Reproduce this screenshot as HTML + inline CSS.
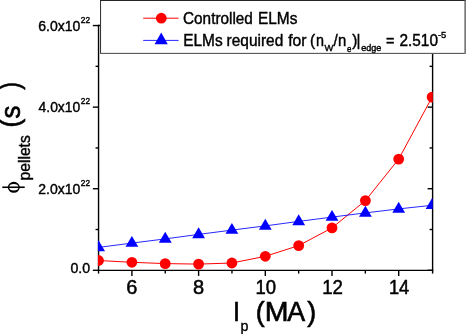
<!DOCTYPE html>
<html><head><meta charset="utf-8"><title>chart</title>
<style>html,body{margin:0;padding:0;background:#fff;}body{width:466px;height:334px;overflow:hidden;position:relative;font-family:"Liberation Sans",sans-serif;}svg text,svg tspan{font-family:"Liberation Sans",sans-serif;stroke:#000;stroke-width:0.4px;}svg .big text{stroke-width:0.6px;}svg .big .sm text{stroke-width:0.4px;}svg .mid text{stroke-width:0.5px;}</style>
</head><body>
<svg width="466" height="334" viewBox="0 0 466 334" style="display:block;position:absolute;left:0;top:0;will-change:transform">
<rect width="466" height="334" fill="#fff"/>
<defs><clipPath id="plot"><rect x="97.9" y="0" width="334.90" height="271"/></clipPath></defs>
<g stroke="#000" fill="none">
<line x1="98.55" y1="24.86" x2="98.55" y2="270.90" stroke-width="1.4"/>
<line x1="432.60" y1="24.86" x2="432.60" y2="270.90" stroke-width="1.4"/>
<line x1="97.85" y1="270.30" x2="433.30" y2="270.30" stroke-width="1.3"/>
<line x1="97.85" y1="25.56" x2="433.30" y2="25.56" stroke-width="1.4"/>
<line x1="92.85" y1="270.30" x2="98.55" y2="270.30" stroke-width="1.4"/>
<line x1="427.60" y1="270.30" x2="432.60" y2="270.30" stroke-width="1.4"/>
<line x1="95.55" y1="229.51" x2="98.55" y2="229.51" stroke-width="1.4"/>
<line x1="429.60" y1="229.51" x2="432.60" y2="229.51" stroke-width="1.4"/>
<line x1="92.85" y1="188.72" x2="98.55" y2="188.72" stroke-width="1.4"/>
<line x1="427.60" y1="188.72" x2="432.60" y2="188.72" stroke-width="1.4"/>
<line x1="95.55" y1="147.93" x2="98.55" y2="147.93" stroke-width="1.4"/>
<line x1="429.60" y1="147.93" x2="432.60" y2="147.93" stroke-width="1.4"/>
<line x1="92.85" y1="107.14" x2="98.55" y2="107.14" stroke-width="1.4"/>
<line x1="427.60" y1="107.14" x2="432.60" y2="107.14" stroke-width="1.4"/>
<line x1="95.55" y1="66.35" x2="98.55" y2="66.35" stroke-width="1.4"/>
<line x1="429.60" y1="66.35" x2="432.60" y2="66.35" stroke-width="1.4"/>
<line x1="92.85" y1="25.56" x2="98.55" y2="25.56" stroke-width="1.4"/>
<line x1="427.60" y1="25.56" x2="432.60" y2="25.56" stroke-width="1.4"/>
<line x1="98.55" y1="270.30" x2="98.55" y2="273.60" stroke-width="1.4"/>
<line x1="131.90" y1="270.30" x2="131.90" y2="275.90" stroke-width="1.4"/>
<line x1="165.25" y1="270.30" x2="165.25" y2="273.60" stroke-width="1.4"/>
<line x1="198.60" y1="270.30" x2="198.60" y2="275.90" stroke-width="1.4"/>
<line x1="231.95" y1="270.30" x2="231.95" y2="273.60" stroke-width="1.4"/>
<line x1="265.30" y1="270.30" x2="265.30" y2="275.90" stroke-width="1.4"/>
<line x1="298.65" y1="270.30" x2="298.65" y2="273.60" stroke-width="1.4"/>
<line x1="332.00" y1="270.30" x2="332.00" y2="275.90" stroke-width="1.4"/>
<line x1="365.35" y1="270.30" x2="365.35" y2="273.60" stroke-width="1.4"/>
<line x1="398.70" y1="270.30" x2="398.70" y2="275.90" stroke-width="1.4"/>
<line x1="432.60" y1="270.30" x2="432.60" y2="273.60" stroke-width="1.4"/>
</g>
<g clip-path="url(#plot)">
<polyline points="98.5,260.5 131.9,262.3 165.2,263.6 198.6,264.1 231.9,263.0 265.3,256.3 298.7,245.6 332.0,227.9 365.4,200.6 398.7,159.1 432.1,97.1" fill="none" stroke="#ff0000" stroke-width="1"/>
<circle cx="98.5" cy="260.5" r="5.4" fill="#ff0000"/>
<circle cx="131.9" cy="262.3" r="5.4" fill="#ff0000"/>
<circle cx="165.2" cy="263.6" r="5.4" fill="#ff0000"/>
<circle cx="198.6" cy="264.1" r="5.4" fill="#ff0000"/>
<circle cx="231.9" cy="263.0" r="5.4" fill="#ff0000"/>
<circle cx="265.3" cy="256.3" r="5.4" fill="#ff0000"/>
<circle cx="298.7" cy="245.6" r="5.4" fill="#ff0000"/>
<circle cx="332.0" cy="227.9" r="5.4" fill="#ff0000"/>
<circle cx="365.4" cy="200.6" r="5.4" fill="#ff0000"/>
<circle cx="398.7" cy="159.1" r="5.4" fill="#ff0000"/>
<circle cx="432.1" cy="97.1" r="5.4" fill="#ff0000"/>
<polyline points="98.5,247.4 131.9,243.1 165.2,238.9 198.6,234.4 231.9,230.1 265.3,225.9 298.7,221.4 332.0,217.1 365.4,212.9 398.7,208.9 432.1,205.3" fill="none" stroke="#0000ff" stroke-width="0.85"/>
<polygon points="98.5,240.2 92.1,251.2 105.0,251.2" fill="#0000ff"/>
<polygon points="131.9,235.9 125.5,246.8 138.3,246.8" fill="#0000ff"/>
<polygon points="165.2,231.7 158.8,242.7 171.7,242.7" fill="#0000ff"/>
<polygon points="198.6,227.2 192.2,238.2 205.0,238.2" fill="#0000ff"/>
<polygon points="231.9,222.9 225.5,233.8 238.3,233.8" fill="#0000ff"/>
<polygon points="265.3,218.7 258.9,229.7 271.7,229.7" fill="#0000ff"/>
<polygon points="298.7,214.2 292.3,225.2 305.1,225.2" fill="#0000ff"/>
<polygon points="332.0,209.9 325.6,220.8 338.4,220.8" fill="#0000ff"/>
<polygon points="365.4,205.7 359.0,216.7 371.8,216.7" fill="#0000ff"/>
<polygon points="398.7,201.7 392.3,212.7 405.1,212.7" fill="#0000ff"/>
<polygon points="432.1,198.1 425.7,209.1 438.4,209.1" fill="#0000ff"/>
</g>
<g fill="#000">
<text transform="translate(38.20,193.77) scale(1.001,1.000)" font-size="14">2.0x10</text>
<text transform="translate(80.78,185.77) scale(1.002,1.000)" font-size="8.3">22</text>
<text transform="translate(38.55,112.19) scale(0.993,1.000)" font-size="14">4.0x10</text>
<text transform="translate(80.78,104.19) scale(1.002,1.000)" font-size="8.3">22</text>
<text transform="translate(38.20,30.61) scale(1.001,1.000)" font-size="14">6.0x10</text>
<text transform="translate(80.78,22.61) scale(1.002,1.000)" font-size="8.3">22</text>
<text transform="translate(70.44,273.00) scale(1.009,1.000)" font-size="14">0.0</text>
<g class="mid">
<text transform="translate(131.80,293.55) scale(1.000,1.030)" font-size="20" text-anchor="middle">6</text>
<text transform="translate(198.50,293.55) scale(1.000,1.030)" font-size="20" text-anchor="middle">8</text>
<text transform="translate(255.46,293.55) scale(0.925,1.030)" font-size="20">10</text>
<text transform="translate(322.15,293.55) scale(0.934,1.030)" font-size="20">12</text>
<text transform="translate(388.88,293.55) scale(0.915,1.030)" font-size="20">14</text>
</g>
<g style="stroke-width:0.6px" class="big">
<text transform="translate(233.08,320.55) scale(0.972,1.045)" font-size="26">I</text>
<text transform="translate(255.79,320.55) scale(1.030,1.045)" font-size="26">(</text>
<text transform="translate(264.77,320.55) scale(1.096,1.045)" font-size="26">M</text>
<text transform="translate(287.37,320.55) scale(1.031,1.045)" font-size="26">A</text>
<text transform="translate(307.15,320.55) scale(1.030,1.045)" font-size="26">)</text>
</g>
<text transform="translate(240.58,330.55) scale(0.930,1.000)" font-size="15.3">p</text>
<g transform="translate(19.9,0) rotate(-90)" class="big">
<text transform="translate(-127.50,-0.80) scale(1.000,1.077)" font-size="26">(</text>
<text transform="translate(-118.48,0.00) scale(0.999,1.077)" font-size="26">s</text>
<text transform="translate(-89.78,-0.80) scale(0.900,1.077)" font-size="26">)</text>
<g class="sm">
<text transform="translate(-180.52,9.90) scale(0.987,1.000)" font-size="15.9">pellets</text>
</g>
</g>
<path fill-rule="evenodd" d="M7.8,187.3 a6.0,5.5 0 1,0 12.0,0 a6.0,5.5 0 1,0 -12.0,0 Z M9.2,187.3 a4.6,3.3 0 1,0 9.2,0 a4.6,3.3 0 1,0 -9.2,0 Z"/>
<line x1="2.3" y1="187.25" x2="24.7" y2="187.25" stroke="#000" stroke-width="1.6"/>
</g>
<rect x="100" y="0" width="366" height="54" fill="#fff"/>
<rect x="100" y="0" width="366" height="1" fill="#262626"/>
<rect x="100.05" y="0" width="1.0" height="53.5" fill="#2e2e2e"/>
<rect x="100.05" y="52.85" width="365.95" height="1.15" fill="#5c5c5c"/>
<rect x="464.3" y="0.5" width="1.7" height="53.5" fill="#7a7a7a"/>
<line x1="143.2" y1="18.2" x2="178.6" y2="18.2" stroke="#ff0000" stroke-width="1"/>
<circle cx="161.3" cy="18.2" r="5.4" fill="#ff0000"/>
<line x1="143.2" y1="40.4" x2="178.6" y2="40.4" stroke="#0000ff" stroke-width="0.85"/>
<polygon points="161.2,32.5 154.6,44.2 167.8,44.2" fill="#0000ff"/>
<g fill="#000">
<text transform="translate(183.03,23.55) scale(1.002,1.045)" font-size="15.3">Controlled</text>
<text transform="translate(257.96,23.55) scale(1.010,1.045)" font-size="15.3">ELMs</text>
<text transform="translate(183.16,45.70) scale(1.010,1.045)" font-size="15.3">ELMs</text>
<text transform="translate(226.60,45.70) scale(1.010,1.045)" font-size="15.3">required</text>
<text transform="translate(288.26,45.70) scale(1.025,1.045)" font-size="15.3">for</text>
<text transform="translate(310.05,45.70) scale(1.000,1.045)" font-size="15.3">(</text>
<text transform="translate(315.97,45.70) scale(0.938,1.045)" font-size="15.3">n</text>
<text transform="translate(324.45,51.35) scale(1.012,1.000)" font-size="9.3">W</text>
<text transform="translate(333.45,45.70) scale(1.000,1.045)" font-size="15.3">/</text>
<text transform="translate(338.04,45.70) scale(0.969,1.045)" font-size="15.3">n</text>
<text transform="translate(347.04,51.50) scale(0.856,1.000)" font-size="9.3">e</text>
<text transform="translate(352.31,45.70) scale(1.000,1.045)" font-size="15.3">)</text>
<text transform="translate(356.61,45.70) scale(1.000,1.045)" font-size="15.3">|</text>
<text transform="translate(361.19,51.35) scale(0.972,1.000)" font-size="9.3">edge</text>
<text transform="translate(385.88,45.70) scale(0.943,1.045)" font-size="15.3">=</text>
<text transform="translate(399.43,45.70) scale(1.006,1.045)" font-size="15.3">2.510</text>
<text transform="translate(437.88,37.50) scale(0.963,1.000)" font-size="9.8">-5</text>
</g>
</svg>
</body></html>
